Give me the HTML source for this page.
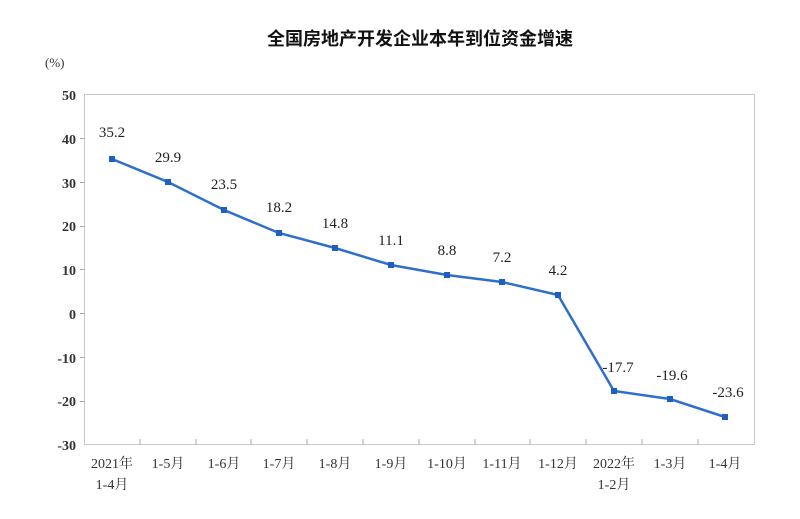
<!DOCTYPE html><html><head><meta charset="utf-8"><style>body{margin:0;background:#fff}</style></head><body>
<svg width="800" height="514" xmlns="http://www.w3.org/2000/svg" font-family="Liberation Serif, Noto Serif CJK SC, serif">
<text x="420" y="45" text-anchor="middle" font-size="18" font-weight="bold" font-family="Liberation Sans, Noto Sans CJK SC, sans-serif" fill="#111">全国房地产开发企业本年到位资金增速</text>
<text x="45" y="67" font-size="13" fill="#333">(%)</text>
<rect x="84.5" y="94.5" width="670" height="350" fill="none" stroke="#c8c8c8" stroke-width="1"/>
<g font-size="14" fill="#333" text-anchor="end" font-weight="bold">
<text x="76" y="100">50</text><text x="76" y="144">40</text><text x="76" y="188">30</text><text x="76" y="231">20</text><text x="76" y="275">10</text><text x="76" y="319">0</text><text x="76" y="363">-10</text><text x="76" y="406">-20</text><text x="76" y="450">-30</text>
</g>
<g stroke="#aaa"><line x1="80" y1="138.5" x2="85" y2="138.5"/><line x1="80" y1="182.5" x2="85" y2="182.5"/><line x1="80" y1="226.5" x2="85" y2="226.5"/><line x1="80" y1="269.5" x2="85" y2="269.5"/><line x1="80" y1="313.5" x2="85" y2="313.5"/><line x1="80" y1="357.5" x2="85" y2="357.5"/><line x1="80" y1="401.5" x2="85" y2="401.5"/>
<line x1="140" y1="439" x2="140" y2="445"/><line x1="196" y1="439" x2="196" y2="445"/><line x1="251" y1="439" x2="251" y2="445"/><line x1="307" y1="439" x2="307" y2="445"/><line x1="363" y1="439" x2="363" y2="445"/><line x1="419" y1="439" x2="419" y2="445"/><line x1="475" y1="439" x2="475" y2="445"/><line x1="530" y1="439" x2="530" y2="445"/><line x1="586" y1="439" x2="586" y2="445"/><line x1="642" y1="439" x2="642" y2="445"/><line x1="698" y1="439" x2="698" y2="445"/></g>
<polyline fill="none" stroke="#2f6fcc" stroke-width="2.5" points="112,159 168,182 224,210 279,233 335,248 391,265 447,275 502,282 558,295 614,391 670,399 725,417"/>
<g fill="#1f5fbf"><rect x="109" y="156" width="6" height="6"/><rect x="165" y="179" width="6" height="6"/><rect x="221" y="207" width="6" height="6"/><rect x="276" y="230" width="6" height="6"/><rect x="332" y="245" width="6" height="6"/><rect x="388" y="262" width="6" height="6"/><rect x="444" y="272" width="6" height="6"/><rect x="499" y="279" width="6" height="6"/><rect x="555" y="292" width="6" height="6"/><rect x="611" y="388" width="6" height="6"/><rect x="667" y="396" width="6" height="6"/><rect x="722" y="414" width="6" height="6"/></g>
<g font-size="15" fill="#222" text-anchor="middle">
<text x="112" y="137">35.2</text><text x="168" y="162">29.9</text><text x="224" y="189">23.5</text><text x="279" y="212">18.2</text><text x="335" y="228">14.8</text><text x="391" y="245">11.1</text><text x="447" y="255">8.8</text><text x="502" y="262">7.2</text><text x="558" y="275">4.2</text><text x="618" y="372">-17.7</text><text x="672" y="380">-19.6</text><text x="728" y="397">-23.6</text>
</g>
<g font-size="14" fill="#333" text-anchor="middle">
<text x="112" y="468">2021年</text><text x="112" y="489">1-4月</text><text x="168" y="468">1-5月</text><text x="224" y="468">1-6月</text><text x="279" y="468">1-7月</text><text x="335" y="468">1-8月</text><text x="391" y="468">1-9月</text><text x="447" y="468">1-10月</text><text x="502" y="468">1-11月</text><text x="558" y="468">1-12月</text><text x="614" y="468">2022年</text><text x="614" y="489">1-2月</text><text x="670" y="468">1-3月</text><text x="725" y="468">1-4月</text>
</g>
</svg></body></html>
